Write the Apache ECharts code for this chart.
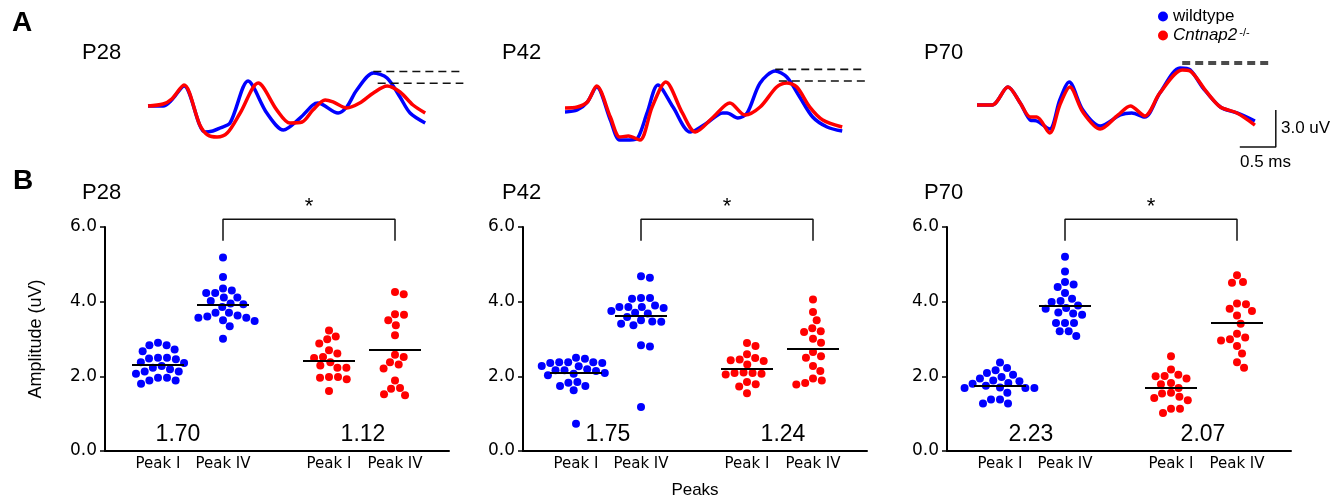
<!DOCTYPE html>
<html><head><meta charset="utf-8">
<script src="https://cdn.jsdelivr.net/npm/echarts@6/dist/echarts.min.js"></script>
<style>html,body{margin:0;padding:0;background:#fff}#c{width:1344px;height:500px}</style>
</head><body><div id="c"></div>
<script>
// ---------- DATA ----------
const ages = ['P28', 'P42', 'P70'];
const groupLabels = ['Peak I', 'Peak IV', 'Peak I', 'Peak IV'];
const yTicks = [0, 2, 4, 6];
const seriesNames = ['wildtype', 'Cntnap2'];

// Panel A traces: [time ms, amplitude uV]
const p28Blue = [[0,0],[0.21,0],[0.33,0.49],[0.50,1.63],[0.79,-2.11],[0.90,-2.03],[1.00,-1.79],[1.14,-1.38],[1.39,2.03],[1.65,-0.57],[1.88,-1.95],[2.11,-0.98],[2.29,0.08],[2.36,0.24],[2.64,-0.57],[2.76,-0.08],[2.90,1.30],[3.13,2.68],[3.32,2.28],[3.50,0.73],[3.64,-0.57],[3.85,-1.38]];
const p28Red = [[0,0],[0.21,0.16],[0.33,0.57],[0.50,1.71],[0.72,-1.54],[0.83,-2.36],[0.96,-2.52],[1.10,-2.20],[1.28,-0.57],[1.53,1.87],[1.79,-0.33],[1.97,-1.38],[2.14,-1.30],[2.29,-0.33],[2.46,0.49],[2.57,0.33],[2.76,-0.16],[2.94,0.24],[3.13,1.06],[3.32,1.63],[3.50,1.14],[3.68,0.08],[3.85,-0.57]];
const p42Blue = [[0,-0.16],[0.17,0],[0.31,0.65],[0.44,1.87],[0.63,-0.81],[0.76,-2.44],[0.90,-2.44],[1.01,-2.28],[1.14,-0.24],[1.29,2.03],[1.50,0.24],[1.74,-1.79],[1.97,-1.06],[2.19,-0.24],[2.25,-0.24],[2.40,-0.65],[2.53,-0.24],[2.71,2.20],[2.92,3.17],[3.08,2.68],[3.26,1.06],[3.44,-0.57],[3.64,-1.38],[3.85,-1.71]];
const p42Red = [[0,0.16],[0.17,0.24],[0.31,0.65],[0.44,1.95],[0.63,-0.57],[0.76,-2.20],[0.88,-2.11],[1.04,-2.44],[1.21,0.24],[1.40,2.28],[1.63,-0.24],[1.81,-1.79],[2.06,-0.57],[2.29,0.57],[2.50,-0.41],[2.71,0.24],[2.94,1.87],[3.08,2.20],[3.22,1.87],[3.40,0.24],[3.58,-0.81],[3.85,-1.38]];
const p70Blue = [[0,0],[0.21,0],[0.43,1.46],[0.60,0.16],[0.74,-1.22],[0.83,-1.30],[1.01,-1.95],[1.15,0.41],[1.28,1.87],[1.47,-0.41],[1.71,-1.71],[1.99,-0.81],[2.15,-0.65],[2.33,-0.98],[2.54,0.98],[2.82,3.01],[2.96,2.85],[3.14,1.38],[3.38,-0.16],[3.61,-0.65],[3.86,-1.30]];
const p70Red = [[0,0],[0.21,0],[0.43,1.46],[0.60,0.16],[0.74,-0.98],[0.83,-0.98],[1.01,-2.28],[1.15,0.0],[1.29,1.46],[1.47,-0.57],[1.71,-1.95],[1.96,-0.81],[2.13,-0.08],[2.33,-0.89],[2.54,0.98],[2.85,2.85],[2.96,2.76],[3.19,1.06],[3.38,-0.16],[3.61,-0.65],[3.86,-1.63]];
// Peak IV levels (dashed lines): [wildtype, Cntnap2]
const peakLevels28 = [2.80, 1.85];
const peakLevels42 = [3.30, 2.36];
const peakLevels70 = [3.50, 3.33];
const peakTimes28 = [3.13, 3.19];
const peakTimes42 = [2.92, 2.97];
const peakTimes70 = [2.85, 2.85];
const scaleBarMs = 0.5, scaleBarUv = 3.0;

// Panel B amplitudes (uV)
const wt28_I  = [2.90,2.83,2.83,2.72,2.67,2.50,2.46,2.48,2.50,2.38,2.23,2.19,2.28,2.13,2.13,2.07,1.96,1.96,1.89,1.89,1.80,2.36];
const wt28_IV = [5.18,4.66,4.35,4.30,4.23,4.23,4.11,4.11,4.02,3.95,3.93,3.86,3.70,3.70,3.63,3.60,3.57,3.57,3.48,3.50,3.34,3.01];
const ko28_I  = [3.23,3.07,2.99,2.88,2.70,2.61,2.52,2.49,2.38,2.29,2.23,2.23,1.98,1.96,1.92,1.98,1.61];
const ko28_IV = [4.20,4.26,3.65,3.66,3.50,3.37,3.10,2.58,2.52,2.38,2.32,2.21,1.89,1.67,1.69,1.49,1.52];
const wt42_I  = [2.47,2.50,2.38,2.36,2.36,2.38,2.38,2.28,2.27,2.19,2.16,2.14,2.09,2.07,2.03,2.16,1.83,1.74,1.63,1.74,1.85,0.73];
const wt42_IV = [4.68,4.64,4.10,4.08,4.10,3.90,3.86,3.83,3.86,3.86,3.70,3.68,3.75,3.59,3.50,3.46,3.37,3.41,3.47,2.83,2.80,1.18];
const ko42_I  = [2.89,2.81,2.49,2.43,2.59,2.32,2.41,2.45,2.10,2.09,2.07,2.05,2.09,1.79,1.85,1.73,1.55];
const ko42_IV = [4.06,3.72,3.50,3.29,3.19,3.21,3.01,2.90,2.65,2.50,2.54,2.28,2.14,1.89,1.78,1.82,1.94];
const wt70_I  = [2.37,2.22,2.16,2.04,2.09,1.94,1.98,1.87,1.89,1.80,1.82,1.69,1.69,1.56,1.38,1.38,1.27,1.27,1.70,1.69,1.75];
const wt70_IV = [5.20,4.81,4.53,4.46,4.39,4.23,4.08,4.02,3.99,3.90,3.81,3.83,3.68,3.71,3.43,3.43,3.43,3.21,3.21,3.08,3.65];
const ko70_I  = [2.54,2.18,2.01,2.00,2.04,1.94,1.82,1.79,1.69,1.56,1.54,1.42,1.36,1.45,1.13,1.13,1.02];
const ko70_IV = [4.71,4.53,4.51,3.93,3.95,3.75,3.81,3.63,3.41,3.14,3.04,2.96,2.99,2.81,2.61,2.38,2.23];
const means28 = [2.32, 3.93, 2.42, 2.71];
const means42 = [2.09, 3.62, 2.21, 2.73];
const means70 = [1.76, 3.90, 1.69, 3.44];
const ratios28 = ['1.70', '1.12'];
const ratios42 = ['1.75', '1.24'];
const ratios70 = ['2.23', '2.07'];
const signif = '*';

// ---------- LAYOUT ----------
const FONT = 'Liberation Sans, Arial, sans-serif';
const TICKFONT = 'DejaVu Sans, Verdana, sans-serif';
const BLUE = '#0000ff', RED = '#ff0000', INK = '#000000';
const aLeft = [148, 565, 977], aBase = [106, 110, 105];
const pxMs = 72, pxUv = 12.3, aXmax = 4.5, aYr = 4;
const dashEnd = [4.38, 4.17, 4.07];
const bLeft = [105, 523, 947], bTop = 227, bW = 344, bH = 224, yMax = 6;
const groupPos = [53, 118, 224, 290];
const ratioX = [[73, 258], [85, 260], [84, 256]];
const halfMean = 26, dotD = 9;

const traces = [[p28Blue, p28Red], [p42Blue, p42Red], [p70Blue, p70Red]];
const levels = [peakLevels28, peakLevels42, peakLevels70];
const ptimes = [peakTimes28, peakTimes42, peakTimes70];
const groups = [[wt28_I, wt28_IV, ko28_I, ko28_IV], [wt42_I, wt42_IV, ko42_I, ko42_IV], [wt70_I, wt70_IV, ko70_I, ko70_IV]];
const means = [means28, means42, means70];
const ratios = [ratios28, ratios42, ratios70];

function swarm(values, cx, pxPerUnit, D) {
  const order = values.map((v, i) => i).sort((a, b) => values[b] - values[a]);
  const placed = [], out = new Array(values.length);
  order.forEach(i => {
    const y = values[i] * pxPerUnit;
    const near = placed.filter(p => Math.abs(p.y - y) < D);
    const cands = [0];
    near.forEach(p => { const dx = Math.sqrt(D * D - (p.y - y) ** 2); cands.push(p.x + dx, p.x - dx); });
    cands.sort((a, b) => Math.abs(a) - Math.abs(b));
    let x = 0;
    for (const c of cands) {
      if (near.every(p => (p.x - c) ** 2 + (p.y - y) ** 2 >= D * D - 1e-6)) { x = c; break; }
    }
    placed.push({ x, y });
    out[i] = [cx + x, values[i]];
  });
  return out;
}

const labelBase = { show: true, position: 'inside', fontFamily: FONT, color: INK, opacity: 1, textBorderWidth: 0, textShadowBlur: 0 };
const grid = [], xAxis = [], yAxis = [], series = [];
for (let k = 0; k < 3; k++) {
  grid.push({ left: aLeft[k], top: aBase[k] - aYr * pxUv, width: aXmax * pxMs, height: 2 * aYr * pxUv });
  xAxis.push({ gridIndex: k, type: 'value', min: 0, max: aXmax, show: false });
  yAxis.push({ gridIndex: k, type: 'value', min: -aYr, max: aYr, show: false });
  const cols = [BLUE, RED];
  traces[k].forEach((tr, j) => {
    series.push({ type: 'line', xAxisIndex: k, yAxisIndex: k, data: tr, symbol: 'none', smooth: 0.3,
      clip: false, silent: true, lineStyle: { color: cols[j], width: 3.5 }, z: 2 + j });
  });
  levels[k].forEach((lv, j) => {
    series.push({ type: 'line', xAxisIndex: k, yAxisIndex: k, data: [[ptimes[k][j], lv], [dashEnd[k], lv]],
      symbol: 'none', clip: false, silent: true, lineStyle: { color: '#111', width: 1.6, type: [8, 5] }, z: 5 });
  });
}
// scale bar in P70 panel A
{
  const ax = 4.15, ay = -3.41;
  series.push({ type: 'line', xAxisIndex: 2, yAxisIndex: 2, symbol: 'none', clip: false, silent: true,
    data: [[ax - scaleBarMs, ay], [ax, ay], [ax, ay + scaleBarUv]], lineStyle: { color: '#111', width: 1.5 } });
}

for (let k = 0; k < 3; k++) {
  const g = 3 + k;
  grid.push({ left: bLeft[k], top: bTop, width: bW, height: bH });
  xAxis.push({ gridIndex: g, type: 'value', min: 0, max: bW,
    name: k === 1 ? 'Peaks' : '', nameLocation: 'middle', nameGap: 31,
    nameTextStyle: { fontFamily: FONT, fontSize: 17, color: INK },
    axisLine: { show: true, lineStyle: { color: '#000', width: 2 } },
    axisTick: { show: false }, splitLine: { show: false },
    axisLabel: { show: true, customValues: groupPos, margin: 6,
      formatter: v => groupLabels[groupPos.indexOf(v)] || '',
      fontFamily: TICKFONT, fontSize: 15, color: INK } });
  yAxis.push({ gridIndex: g, type: 'value', min: 0, max: yMax, interval: 2,
    name: k === 0 ? 'Amplitude (uV)' : '', nameLocation: 'middle', nameGap: 60,
    nameTextStyle: { fontFamily: FONT, fontSize: 18, color: INK },
    axisLine: { show: true, lineStyle: { color: '#000', width: 2 } },
    axisTick: { show: true, inside: false, length: 5, lineStyle: { color: '#000', width: 1.5 } },
    splitLine: { show: false },
    axisLabel: { formatter: v => yTicks.includes(v) ? v.toFixed(1) : '', fontFamily: TICKFONT, fontSize: 17, color: INK, margin: 8 } });
  const ppu = bH / yMax;
  groups[k].forEach((vals, j) => {
    const cx = groupPos[j];
    series.push({ type: 'scatter', name: seriesNames[j < 2 ? 0 : 1], xAxisIndex: g, yAxisIndex: g,
      data: swarm(vals, cx, ppu, dotD), symbolSize: 8, clip: false,
      itemStyle: { color: j < 2 ? BLUE : RED, opacity: 1 },
      markLine: { symbol: ['none', 'none'], silent: true, label: { show: false },
        lineStyle: { color: '#000', width: 2, type: 'solid' }, z: 10,
        data: [[{ coord: [cx - halfMean, means[k][j]] }, { coord: [cx + halfMean, means[k][j]] }]] } });
  });
  // significance bracket
  series.push({ type: 'line', xAxisIndex: g, yAxisIndex: g, symbol: 'none', clip: false, silent: true,
    data: [[groupPos[1], 5.63], [groupPos[1], 6.21], [groupPos[3], 6.21], [groupPos[3], 5.63]],
    lineStyle: { color: '#111', width: 1.5 } });
  series.push({ type: 'scatter', xAxisIndex: g, yAxisIndex: g, symbolSize: 1, clip: false, silent: true,
    itemStyle: { color: 'rgba(0,0,0,0)' },
    data: [[(groupPos[1] + groupPos[3]) / 2, 6.55]],
    label: Object.assign({}, labelBase, { formatter: signif, fontSize: 22 }) });
  // ratio labels
  series.push({ type: 'scatter', xAxisIndex: g, yAxisIndex: g, symbolSize: 1, clip: false, silent: true,
    itemStyle: { color: 'rgba(0,0,0,0)' },
    data: ratios[k].map((r, i) => ({ value: [ratioX[k][i], 0.43], txt: r })),
    label: Object.assign({}, labelBase, { formatter: p => p.data.txt, fontSize: 23 }) });
}

const titleStyle = { fontFamily: FONT, fontSize: 22, fontWeight: 'normal', color: INK };
const title = [
  { text: 'A', left: 12, top: 9, padding: 0, textStyle: { fontFamily: FONT, fontSize: 28, fontWeight: 'bold', color: '#000' } },
  { text: 'B', left: 13, top: 167, padding: 0, textStyle: { fontFamily: FONT, fontSize: 28, fontWeight: 'bold', color: '#000' } }
];
const titleX = [82, 502, 924];
ages.forEach((a, k) => {
  title.push({ text: a, left: titleX[k], top: 42, padding: 0, textStyle: titleStyle });
  title.push({ text: a, left: titleX[k], top: 182, padding: 0, textStyle: titleStyle });
});

const chart = echarts.init(document.getElementById('c'), null, { renderer: 'canvas' });
chart.setOption({
  animation: false,
  backgroundColor: '#fff',
  title, grid, xAxis, yAxis, series,
  legend: {
    data: seriesNames, orient: 'vertical', left: 1158, top: 8, itemGap: 2, padding: 0,
    icon: 'circle', itemWidth: 10, itemHeight: 10, selectedMode: false,
    formatter: n => n === 'Cntnap2' ? '{i|Cntnap2}{s|-/-}' : n,
    textStyle: { fontFamily: FONT, fontSize: 17, color: INK,
      rich: { i: { fontFamily: FONT, fontSize: 17, fontStyle: 'italic', color: INK },
              s: { fontFamily: FONT, fontSize: 11, color: INK, verticalAlign: 'top', padding: [0, 0, 0, 2] } } }
  },
  graphic: [
    { type: 'text', left: 1281, top: 120, style: { text: '3.0 uV', fontFamily: FONT, fontSize: 17, fill: INK } },
    { type: 'text', left: 1240, top: 154, style: { text: '0.5 ms', fontFamily: FONT, fontSize: 17, fill: INK } }
  ]
});
</script></body></html>
